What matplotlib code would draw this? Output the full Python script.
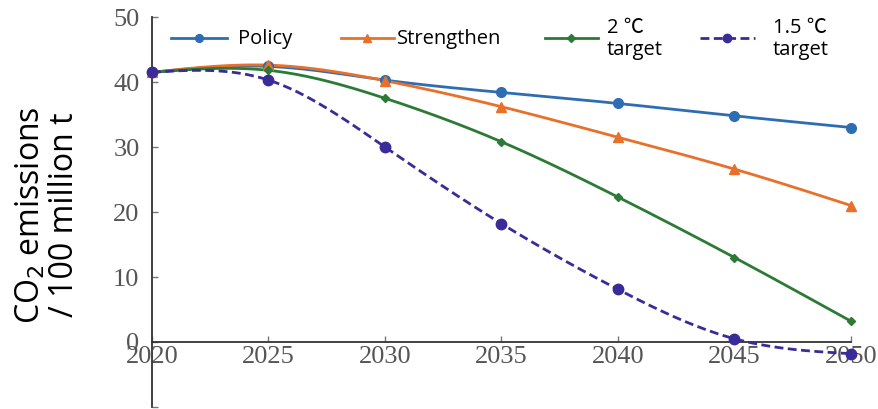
import numpy as np
import matplotlib
matplotlib.use("Agg")
import matplotlib.pyplot as plt
from matplotlib.lines import Line2D

# Scenario emission pathways (100 million t CO2)
years = [2020, 2025, 2030, 2035, 2040, 2045, 2050]
policy = [41.5, 42.4, 40.3, 38.4, 36.7, 34.8, 33.0]
strengthen = [41.5, 42.6, 40.2, 36.2, 31.5, 26.6, 21.0]
target_2c = [41.5, 41.8, 37.5, 30.8, 22.3, 13.0, 3.2]
target_15c = [41.5, 40.3, 30.0, 18.2, 8.1, 0.5, -1.8]

labels = ["Policy", "Strengthen", "2 \u2103\ntarget", "1.5 \u2103\ntarget"]
yticks = [-10, 0, 10, 20, 30, 40, 50]
ytick_labels = ["", "0", "10", "20", "30", "40", "50"]

SANS = ["Open Sans", "Noto Sans CJK SC", "DejaVu Sans"]


def natural_spline(x, y, n=200):
    """Natural cubic spline through (x, y), sampled densely for a smooth line."""
    x = np.asarray(x, float)
    y = np.asarray(y, float)
    k = len(x)
    h = np.diff(x)
    A = np.zeros((k, k))
    b = np.zeros(k)
    A[0, 0] = A[-1, -1] = 1.0
    for i in range(1, k - 1):
        A[i, i - 1] = h[i - 1]
        A[i, i] = 2 * (h[i - 1] + h[i])
        A[i, i + 1] = h[i]
        b[i] = 3 * ((y[i + 1] - y[i]) / h[i] - (y[i] - y[i - 1]) / h[i - 1])
    c = np.linalg.solve(A, b)
    xs = np.linspace(x[0], x[-1], n)
    idx = np.clip(np.searchsorted(x, xs, side="right") - 1, 0, k - 2)
    dx = xs - x[idx]
    bb = (y[idx + 1] - y[idx]) / h[idx] - h[idx] * (2 * c[idx] + c[idx + 1]) / 3
    dd = (c[idx + 1] - c[idx]) / (3 * h[idx])
    ys = y[idx] + bb * dx + c[idx] * dx ** 2 + dd * dx ** 3
    return xs, ys


W, H = 879, 409
fig = plt.figure(figsize=(W / 100, H / 100), dpi=100)
ax = fig.add_axes([0.1729, 0.0049, 0.7952, 0.9535])

series = [
    (policy, "#2f6db3", "o", 7, "-"),
    (strengthen, "#e8702a", "^", 7, "-"),
    (target_2c, "#2c7a35", "D", 4.5, "-"),
    (target_15c, "#3a2c98", "o", 7.5, (0, (3.2, 1.6))),
]

for vals, color, marker, ms, ls in series:
    xs, ys = natural_spline(years, vals)
    ax.plot(xs, ys, color=color, lw=2.0, ls=ls, clip_on=False, zorder=3)
    ax.plot(years, vals, ls="none", marker=marker, ms=ms, color=color,
            clip_on=False, zorder=4)

ax.set_xlim(2020, 2050)
ax.set_ylim(-10, 50)
ax.set_xticks(years)
ax.set_yticks(yticks)
ax.set_yticklabels(ytick_labels)

for s in ("top", "right"):
    ax.spines[s].set_visible(False)
ax.spines["bottom"].set_position(("data", 0))
for s in ("left", "bottom"):
    ax.spines[s].set_color("#333333")
    ax.spines[s].set_linewidth(1.3)

ax.tick_params(axis="both", direction="in", length=4, width=1.0, color="#777777",
               labelcolor="#555555", labelsize=19)
ax.tick_params(axis="y", pad=9)
ax.tick_params(axis="x", pad=3)
for t in ax.get_xticklabels() + ax.get_yticklabels():
    t.set_family("Liberation Serif")

fig.text(0.054, 0.474, "CO$_2$ emissions\n/ 100 million t", rotation=90,
         ha="center", va="center", fontsize=23, family=SANS,
         linespacing=1.0, color="#000000")

# Legend row: handle span (px from left), text x (px from left)
legend_items = [
    (171, 227, 238),
    (341, 394, 397),
    (545, 598, 607),
    (700, 755, 773),
]
leg_y = 38
for (x0, x1, tx), (vals, color, marker, ms, ls), lab in zip(legend_items, series, labels):
    fy = 1 - leg_y / H
    line = Line2D([x0 / W, x1 / W], [fy, fy], transform=fig.transFigure,
                  color=color, lw=2.0, ls=ls)
    mk = Line2D([(x0 + x1) / 2 / W], [fy], transform=fig.transFigure,
                color=color, marker=marker, ms=ms * 0.8, ls="none")
    fig.add_artist(line)
    fig.add_artist(mk)
    fig.text(tx / W, 1 - (leg_y + 1) / H, lab, ha="left", va="center",
             fontsize=14.5, family=SANS, linespacing=1.15)

fig.savefig("out.png", dpi=100)
